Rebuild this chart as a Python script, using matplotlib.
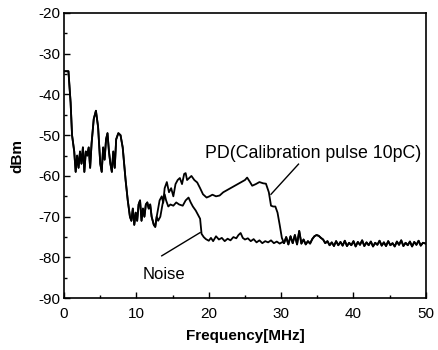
import matplotlib
matplotlib.use("Agg")
import matplotlib.pyplot as plt
from matplotlib.ticker import MultipleLocator

plt.rcParams['font.family'] = ['Liberation Sans', 'DejaVu Sans']
plt.rcParams['axes.unicode_minus'] = False

# shared low-frequency part (both traces lie on top of each other)
common_f = [0.0, 0.6, 0.9, 1.1, 1.4, 1.6, 1.8, 2.0, 2.2, 2.4, 2.6, 2.8, 3.0, 3.2,
            3.4, 3.6, 3.8, 4.1, 4.4, 4.7, 5.0, 5.2, 5.4, 5.6, 5.8, 6.0, 6.2, 6.4,
            6.6, 6.8, 7.0, 7.2, 7.5, 7.8, 8.1, 8.3, 8.5, 8.8, 9.1, 9.3, 9.5, 9.7,
            9.9, 10.1, 10.3, 10.5, 10.7, 10.9, 11.1, 11.3, 11.5, 11.7, 11.9, 12.1,
            12.4, 12.6, 12.8]
common_db = [-34.3, -34.3, -42, -50, -54, -59, -55, -58, -54, -57, -53, -59, -54, -55,
             -53, -58, -52, -46, -44, -48, -57, -59, -53, -56, -51, -49.5, -54, -57,
             -59, -54, -58, -51, -49.5, -50, -53, -57, -61, -66, -70, -71, -68, -72,
             -69, -71, -67, -66, -71, -68, -70, -67, -66.5, -68, -67, -70,
             -72, -72.5, -70]

pd_f = [13.0, 13.2, 13.5, 13.7, 13.9, 14.2, 14.5, 14.8, 15.1, 15.4, 15.7, 16.0, 16.3,
        16.6, 16.8, 17.0, 17.3, 17.6, 18.0, 18.4, 18.8, 19.2, 19.7, 20.1, 20.5, 21.0,
        21.5, 22.0, 22.5, 23.0, 23.5, 24.0, 24.5, 25.0, 25.3, 25.7, 26.0, 26.5, 27.0,
        27.5, 27.9, 28.3, 28.6, 28.9, 29.2, 29.5, 29.8, 30.1]
pd_db = [-68, -66, -65, -66.6, -63, -61.5, -64, -63, -65, -62, -61, -60.5, -62,
         -59.5, -59.3, -61, -60.5, -60, -61, -61.6, -63, -64.5, -65.3, -65, -64.6, -65,
         -64.8, -64, -63.5, -63, -62.5, -62, -61.5, -61, -60.4, -61.5, -62.4, -62, -61.5,
         -61.8, -61.9, -64, -67.3, -67.5, -67.5, -69, -72, -75.2]

noise_f = [13.0, 13.3, 13.6, 13.9, 14.1, 14.4, 14.7, 15.1, 15.5, 15.9, 16.4, 16.8,
           17.2, 17.5, 17.8, 18.2, 18.5, 18.8, 19.0, 19.3, 19.6, 20.0, 20.3, 20.6,
           21.0, 21.4, 21.8, 22.2, 22.6, 23.0, 23.4, 23.8, 24.1, 24.4, 24.7, 25.0,
           25.4, 25.8, 26.2, 26.6, 27.0, 27.4, 27.8, 28.2, 28.6, 29.0, 29.4, 29.8, 30.2]
noise_db = [-71, -70, -67, -64.5, -66, -67.5, -67, -67.3, -66.5, -67, -67.3, -66,
            -65.3, -66.5, -67.5, -68.5, -69.5, -70.5, -74.2, -75, -75.5, -75.9, -75.2, -76,
            -74.8, -75.6, -75.2, -76, -75.4, -75.8, -75, -75.3, -74.5, -74, -75.2, -75.6,
            -75.3, -76, -75.5, -76.3, -75.8, -76.5, -76, -76.3, -75.8, -76.5, -76.1, -76.6, -76.2]

# shared high-frequency floor
tail_f = [30.4, 30.7, 31.0, 31.3, 31.6, 31.9, 32.2, 32.5, 32.8, 33.1, 33.4, 33.7, 34.0,
          34.3, 34.6, 34.9, 35.2, 35.5, 35.8, 36.1, 36.4, 36.7, 37.0, 37.3, 37.6, 37.9,
          38.2, 38.5, 38.8, 39.1, 39.4, 39.7, 40.0, 40.3, 40.6, 40.9, 41.2, 41.5, 41.8,
          42.1, 42.4, 42.7, 43.0, 43.3, 43.6, 43.9, 44.2, 44.5, 44.8, 45.1, 45.4, 45.7,
          46.0, 46.3, 46.6, 46.9, 47.2, 47.5, 47.8, 48.1, 48.4, 48.7, 49.0, 49.3, 49.6, 50.0]
tail_db = [-76.5, -75, -76.8, -74.8, -76.5, -74.5, -76.8, -73.5, -76.6, -75.6, -76.8, -76, -76.6,
           -75.5, -74.8, -74.5, -74.7, -75.2, -75.6, -76.5, -76, -77, -76.3, -77.2, -76, -77,
           -76.2, -77.1, -75.9, -77.2, -76.4, -77, -76, -77.3, -76.2, -76.9, -75.8, -77.2, -76.3,
           -77, -76.1, -77.3, -76.4, -76.9, -75.9, -77.1, -76.3, -77.2, -76, -77, -76.5, -77.3,
           -76.1, -76.9, -75.8, -77.2, -76.4, -77, -76.1, -77.3, -76.2, -76.9, -75.9, -77.1, -76.4, -76.6]

pd_x = common_f + pd_f + tail_f
pd_y = common_db + pd_db + tail_db
noise_x = common_f + noise_f + tail_f
noise_y = common_db + noise_db + tail_db

fig = plt.figure(figsize=(4.39, 3.5), dpi=100)
ax = fig.add_axes([0.146, 0.148, 0.824, 0.815])

ax.plot(noise_x, noise_y, color='black', lw=1.3)
ax.plot(pd_x, pd_y, color='black', lw=1.3)

ax.set_xlim(0, 50)
ax.set_ylim(-90, -20)
ax.xaxis.set_major_locator(MultipleLocator(10))
ax.xaxis.set_minor_locator(MultipleLocator(5))
ax.yaxis.set_major_locator(MultipleLocator(10))
ax.yaxis.set_minor_locator(MultipleLocator(5))
ax.tick_params(which='major', direction='in', length=4, width=1, labelsize=11)
ax.tick_params(axis='x', which='major', pad=6)
ax.tick_params(axis='y', which='major', pad=3)
ax.tick_params(which='minor', direction='in', length=2, width=1)
for s in ax.spines.values():
    s.set_linewidth(1.2)

ax.set_xlabel('Frequency[MHz]', fontsize=11, fontweight='bold', labelpad=6)
ax.set_ylabel('dBm', fontsize=11, fontweight='bold', labelpad=10)

ax.text(19.5, -55.5, 'PD(Calibration pulse 10pC)', fontsize=12.8, va='baseline', ha='left')
ax.plot([32.4, 28.6], [-57.1, -64.5], color='black', lw=1)
ax.text(13.8, -85.3, 'Noise', fontsize=12, va='baseline', ha='center')
ax.plot([13.5, 18.8], [-79.6, -73.9], color='black', lw=1)

fig.savefig('out.png', dpi=100)
